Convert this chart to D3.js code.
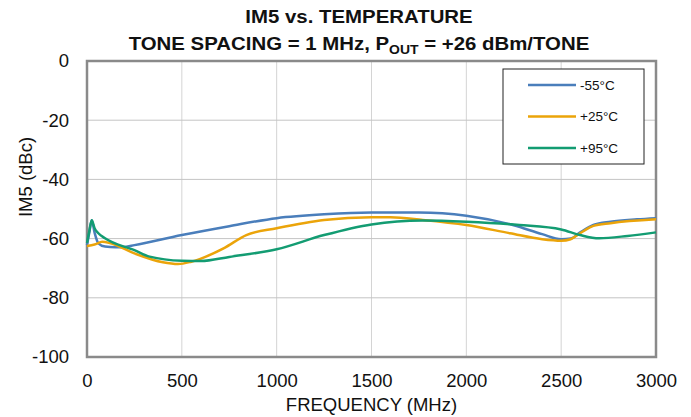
<!DOCTYPE html>
<html>
<head>
<meta charset="utf-8">
<script src="https://cdn.jsdelivr.net/npm/d3@7"></script>
<style>
    body { margin: 0; background: #fff; }
    svg text { font-family: "Liberation Sans", Arial, sans-serif; fill: #111; }
    .title { font-weight: bold; font-size: 19px; }
</style>
</head>
<body>
<div id="chart"></div>
<script>
// IM5 vs. temperature
var xTicks = [0, 500, 1000, 1500, 2000, 2500, 3000];
var yTicks = [0, -20, -40, -60, -80, -100];

var seriesNames = ['-55°C', '+25°C', '+95°C'];
var seriesColors = ['#4a7ebb', '#eba40a', '#139c72'];

var coldFreq = [0, 12, 25, 40, 60, 95, 150, 200, 250, 500, 750, 1000, 1250, 1500, 1750, 2000, 2250, 2400, 2500, 2550, 2600, 2670, 2760, 2900, 3000];
var coldIm5  = [-62.2, -58, -53.8, -58, -61.6, -62.7, -62.9, -62.8, -62.2, -58.8, -55.8, -53.1, -51.8, -51.2, -51.2, -52.3, -55.5, -58.5, -60.2, -60.0, -57.9, -55.4, -54.3, -53.5, -53.1];

var roomFreq = [0, 40, 80, 120, 250, 400, 480, 550, 720, 840, 1000, 1250, 1500, 1600, 1770, 2000, 2230, 2400, 2500, 2550, 2600, 2670, 2760, 3000];
var roomIm5  = [-62.5, -62, -61.1, -61.5, -65, -68, -68.6, -67.8, -63.3, -58.8, -56.5, -53.7, -52.8, -52.8, -53.7, -55.4, -58.2, -60.2, -60.7, -60.2, -58.2, -55.7, -54.8, -53.5];

var hotFreq = [0, 12, 25, 40, 60, 95, 250, 330, 500, 600, 750, 1000, 1250, 1500, 1770, 2000, 2280, 2500, 2600, 2700, 2850, 3000];
var hotIm5  = [-61.5, -57.5, -53.8, -56.5, -58.2, -59.9, -63.9, -66.1, -67.5, -67.6, -66.2, -63.6, -58.8, -55.2, -53.9, -54.3, -55.4, -56.9, -58.8, -59.9, -59.1, -57.9];

var series = [
    d3.zip(coldFreq, coldIm5),
    d3.zip(roomFreq, roomIm5),
    d3.zip(hotFreq, hotIm5)
];

var width = 691,
    height = 417,
    margin = {top: 61, right: 35, bottom: 60, left: 87};

var svg = d3.select('#chart').append('svg')
            .attr('width', width)
            .attr('height', height);

var x = d3.scaleLinear().domain([0, 3000]).range([margin.left, width - margin.right]);
var y = d3.scaleLinear().domain([-100, 0]).range([height - margin.bottom, margin.top]);

// title, stretched a little so the second line fills ~461px like the original
var title = svg.append('g').attr('class', 'title');
var t1 = title.append('text').attr('text-anchor', 'middle').attr('y', 23).text('IM5 vs. TEMPERATURE');
var t2 = title.append('text').attr('text-anchor', 'middle').attr('y', 50);
t2.append('tspan').text('TONE SPACING = 1 MHz, P');
t2.append('tspan').attr('dy', 4).style('font-size', '13px').text('OUT');
t2.append('tspan').attr('dy', -4).text(' = +26 dBm/TONE');

var stretch = 461 / t2.node().getComputedTextLength();
t1.attr('transform', 'translate(359,0) scale(' + stretch + ',1)');
t2.attr('transform', 'translate(359,0) scale(' + stretch + ',1)');

// grid
svg.append('g')
   .selectAll('line')
   .data(xTicks.slice(1, -1))
   .enter()
   .append('line')
   .attr('x1', function (d) { return x(d); })
   .attr('x2', function (d) { return x(d); })
   .attr('y1', y(0))
   .attr('y2', y(-100))
   .attr('stroke', '#d4d4d4')
   .attr('stroke-width', 1);

svg.append('g')
   .selectAll('line')
   .data(yTicks.slice(1, -1))
   .enter()
   .append('line')
   .attr('x1', x(0))
   .attr('x2', x(3000))
   .attr('y1', function (d) { return y(d); })
   .attr('y2', function (d) { return y(d); })
   .attr('stroke', '#c4c4c4')
   .attr('stroke-width', 1);

// axes (labels only, frame drawn separately)
var xAxis = svg.append('g')
               .attr('transform', 'translate(0,' + y(-100) + ')')
               .call(d3.axisBottom(x).tickValues(xTicks).tickSize(0).tickPadding(17).tickFormat(String));
var yAxis = svg.append('g')
               .attr('transform', 'translate(' + x(0) + ',0)')
               .call(d3.axisLeft(y).tickValues(yTicks).tickSize(0).tickPadding(18).tickFormat(String));

[xAxis, yAxis].forEach(function (a) {
    a.select('.domain').remove();
    a.selectAll('text').style('font-size', '18.5px').attr('fill', '#111');
});

svg.append('rect')
   .attr('x', x(0))
   .attr('y', y(0))
   .attr('width', x(3000) - x(0))
   .attr('height', y(-100) - y(0))
   .attr('fill', 'none')
   .attr('stroke', '#8a8a8a')
   .attr('stroke-width', 2.5);

svg.append('text')
   .attr('x', (x(0) + x(3000)) / 2)
   .attr('y', 411)
   .attr('text-anchor', 'middle')
   .style('font-size', '18.5px')
   .text('FREQUENCY (MHz)');

svg.append('text')
   .attr('transform', 'translate(32,177) rotate(-90)')
   .attr('text-anchor', 'middle')
   .style('font-size', '18.5px')
   .text('IM5 (dBc)');

// curves
var line = d3.line()
             .x(function (d) { return x(d[0]); })
             .y(function (d) { return y(d[1]); })
             .curve(d3.curveMonotoneX);

svg.append('g')
   .selectAll('path')
   .data(series)
   .enter()
   .append('path')
   .attr('d', line)
   .attr('fill', 'none')
   .attr('stroke', function (d, i) { return seriesColors[i]; })
   .attr('stroke-width', 2.5)
   .attr('stroke-linejoin', 'round');

// legend
var legend = svg.append('g').attr('transform', 'translate(503,69)');

legend.append('rect')
      .attr('width', 141)
      .attr('height', 95)
      .attr('fill', '#fff')
      .attr('stroke', '#222')
      .attr('stroke-width', 1);

var item = legend.selectAll('g.item')
                 .data(seriesNames)
                 .enter()
                 .append('g')
                 .attr('class', 'item')
                 .attr('transform', function (d, i) { return 'translate(0,' + (16 + i * 31.5) + ')'; });

item.append('line')
    .attr('x1', 25)
    .attr('x2', 73)
    .attr('stroke', function (d, i) { return seriesColors[i]; })
    .attr('stroke-width', 2.5);

item.append('text')
    .attr('x', 77)
    .attr('dy', '0.35em')
    .style('font-size', '13.5px')
    .text(function (d) { return d; });
</script>
</body>
</html>
